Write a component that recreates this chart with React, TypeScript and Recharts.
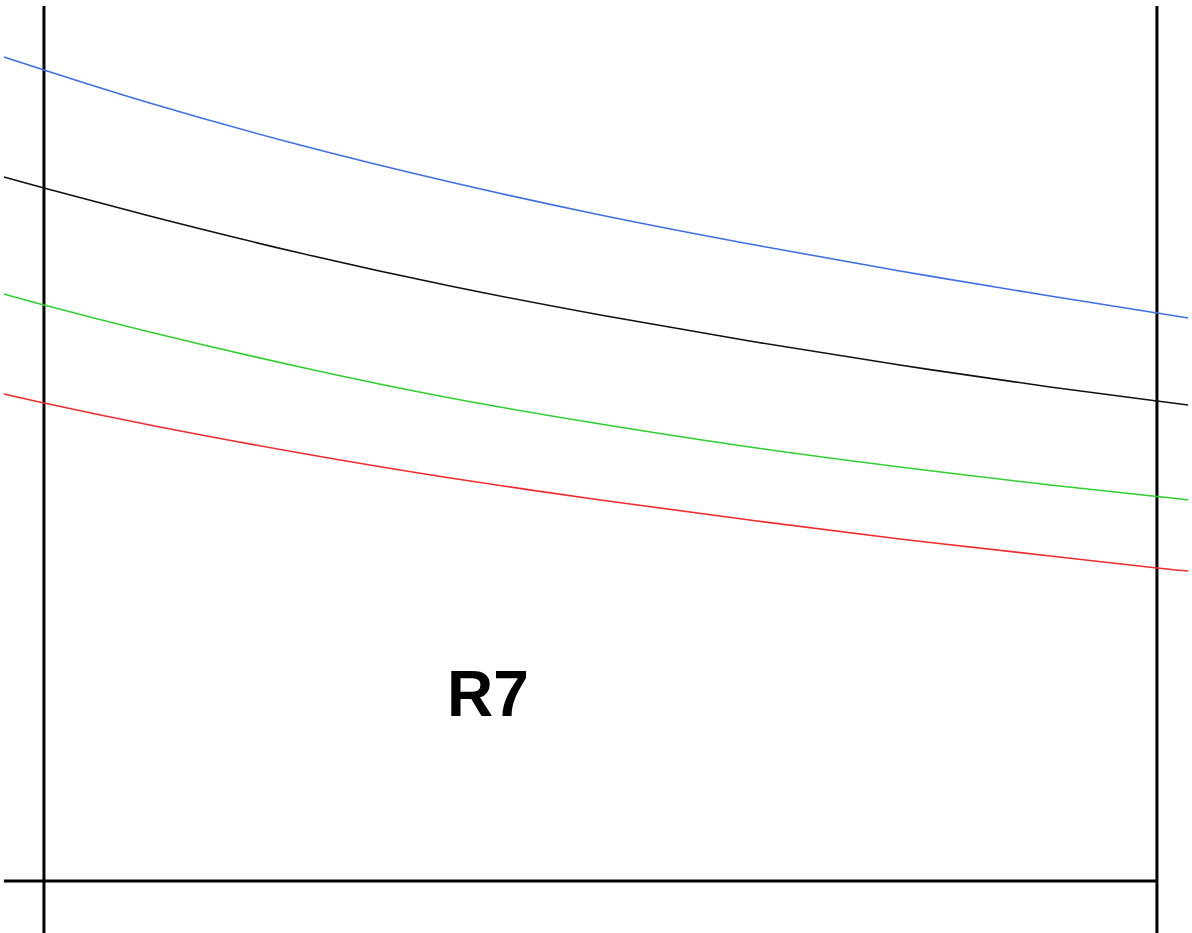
import { LineChart, Line, XAxis, YAxis, ReferenceLine } from 'recharts';

// x positions (frame runs from 0 to 10), y values (baseline at 0)
const xs = [-0.36, 0, 0.95, 2.3, 3.65, 5.0, 6.34, 7.69, 9.04, 10, 10.28];
const blue = [82.4, 81.1, 77.8, 73.6, 69.9, 66.6, 63.7, 61.0, 58.5, 56.8, 56.3];
const black = [70.4, 69.3, 66.5, 62.8, 59.5, 56.6, 54.0, 51.6, 49.4, 48.0, 47.6];
const green = [58.7, 57.6, 54.9, 51.4, 48.3, 45.7, 43.4, 41.4, 39.6, 38.45, 38.1];
const red = [48.7, 47.8, 45.6, 42.8, 40.3, 38.1, 36.1, 34.2, 32.5, 31.3, 31.0];
const label = 'R7';

const rows = xs.map((x, i) => ({
  x,
  blue: blue[i],
  black: black[i],
  green: green[i],
  red: red[i],
}));

const series = [
  { key: 'blue', color: '#3f6fe4' },
  { key: 'black', color: '#111111' },
  { key: 'green', color: '#2fd02f' },
  { key: 'red', color: '#f02c2c' },
];

export default function App() {
  return (
    <div style={{ position: 'absolute', left: 0, top: 0, width: 1192, height: 933, background: '#fff' }}>
      <LineChart
        width={1192}
        height={933}
        data={rows}
        margin={{ top: 0, right: 0, bottom: 0, left: 0 }}
      >
        <XAxis type="number" dataKey="x" domain={[-0.395, 10.315]} hide allowDataOverflow />
        <YAxis type="number" domain={[-5.2, 88.1]} hide allowDataOverflow />
        <ReferenceLine
          segment={[{ x: 0, y: 87.5 }, { x: 0, y: -5.2 }]}
          stroke="#000"
          strokeWidth={3}
        />
        <ReferenceLine
          segment={[{ x: 10, y: 87.5 }, { x: 10, y: -5.2 }]}
          stroke="#000"
          strokeWidth={3}
        />
        <ReferenceLine
          segment={[{ x: -0.36, y: 0 }, { x: 10, y: 0 }]}
          stroke="#000"
          strokeWidth={3}
        />
        {series.map((s) => (
          <Line
            key={s.key}
            type="natural"
            dataKey={s.key}
            stroke={s.color}
            strokeWidth={1.6}
            dot={false}
            activeDot={false}
            isAnimationActive={false}
          />
        ))}
      </LineChart>
      <div
        style={{
          position: 'absolute',
          left: 447,
          top: 662,
          fontFamily: '"Liberation Sans", Arial, sans-serif',
          fontWeight: 'bold',
          fontSize: 64,
          lineHeight: '64px',
          color: '#000',
        }}
      >
        {label}
      </div>
    </div>
  );
}
